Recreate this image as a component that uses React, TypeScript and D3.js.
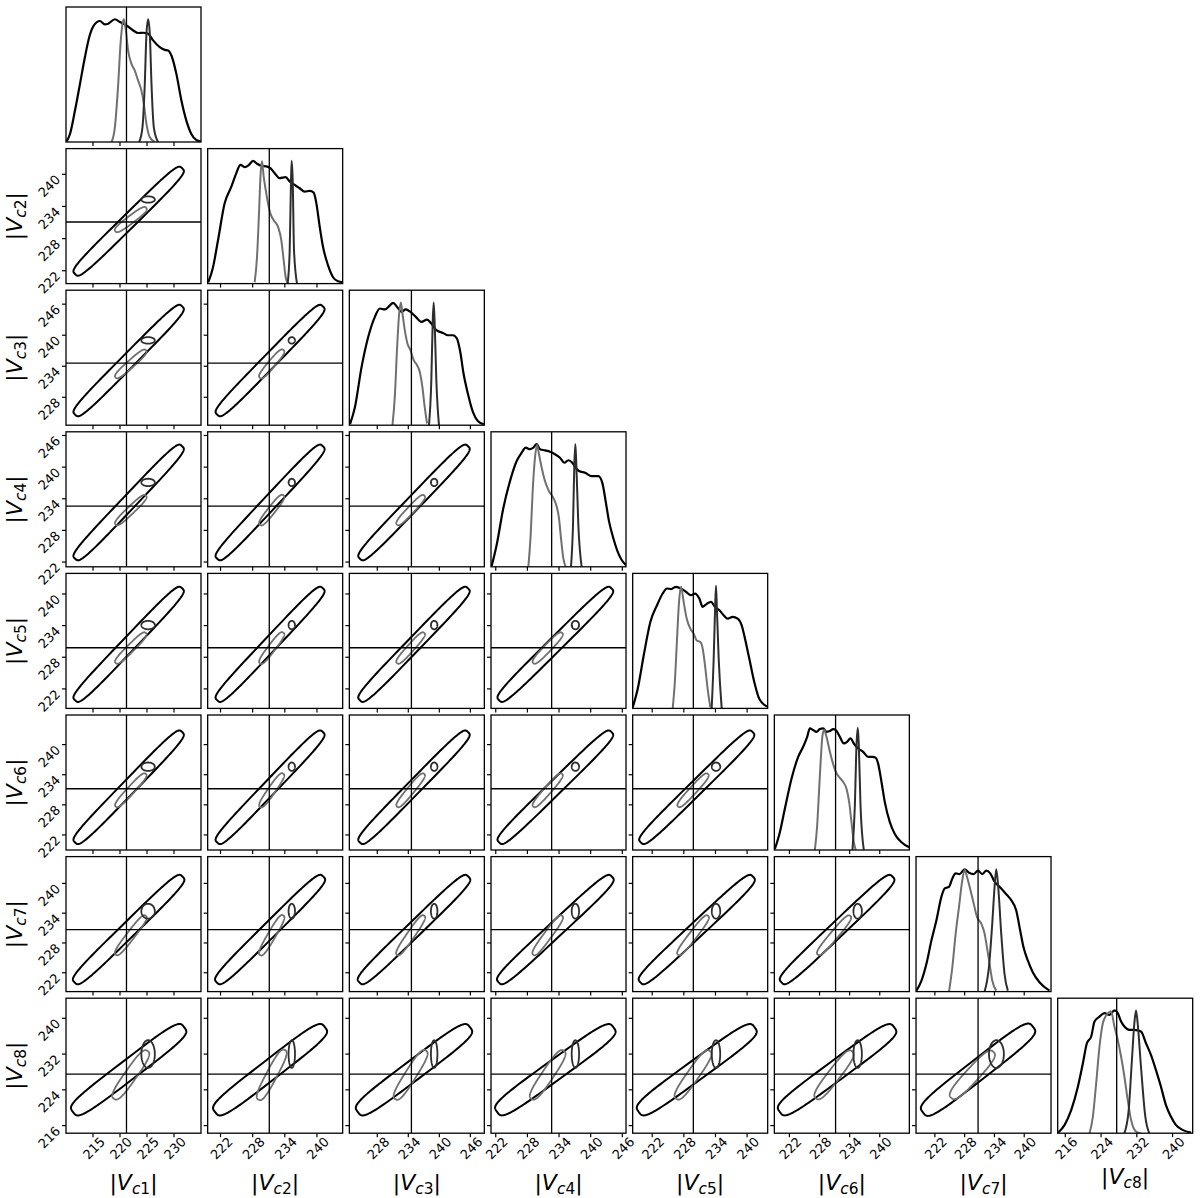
import React from 'react';
import * as d3 from 'd3';

// variable names, injected "true" values, axis ranges and ticks
const names = ['c1', 'c2', 'c3', 'c4', 'c5', 'c6', 'c7', 'c8'];
const truth = [221.2, 231.1, 234.6, 232.6, 229.8, 231.2, 230.7, 227.5];
const domains = [
  [210, 235], [219.6, 244.8], [222.6, 248.7], [221.1, 246.7],
  [218.3, 243.9], [219.0, 245.9], [218.2, 245.4], [214.3, 244.5],
];
const tickVals = [
  [215, 220, 225, 230], [222, 228, 234, 240], [228, 234, 240, 246], [222, 228, 234, 240, 246],
  [222, 228, 234, 240], [222, 228, 234, 240], [222, 228, 234, 240], [216, 224, 232, 240],
];

// 1D marginals [value, relative density]
const broad1D = [
  [[210.12, 0.005], [210.74, 0.065], [211.66, 0.256], [212.59, 0.474], [213.51, 0.692], [214.31, 0.855], [215.05, 0.942], [216.28, 0.986], [217.2, 0.958], [217.82, 0.964], [219.05, 1.0], [219.98, 0.977], [221.21, 0.95], [222.44, 0.909], [223.37, 0.888], [224.29, 0.89], [225.21, 0.882], [226.13, 0.828], [227.36, 0.773], [228.29, 0.751], [228.9, 0.746], [229.52, 0.705], [230.44, 0.555], [231.37, 0.338], [232.29, 0.174], [233.21, 0.065], [234.14, 0.016], [235, 0.005]],
  [[219.72, 0.011], [220.6, 0.134], [221.53, 0.353], [222.77, 0.654], [224.02, 0.79], [224.95, 0.9], [225.7, 0.968], [226.51, 0.949], [227.32, 0.968], [228.06, 1.0], [228.81, 0.977], [229.62, 0.96], [230.55, 0.955], [231.3, 0.941], [232.11, 0.9], [233.04, 0.859], [234.16, 0.867], [234.91, 0.832], [235.84, 0.804], [236.77, 0.777], [237.71, 0.75], [238.64, 0.755], [239.39, 0.741], [239.89, 0.654], [240.51, 0.465], [241.13, 0.3], [242.06, 0.15], [243.0, 0.052], [243.93, 0.019], [244.8, 0.011]],
  [[222.73, 0.008], [223.69, 0.149], [224.97, 0.475], [226.26, 0.72], [227.54, 0.883], [228.5, 0.951], [229.47, 0.943], [230.3, 0.97], [231.07, 0.997], [231.84, 0.964], [232.68, 0.923], [233.51, 0.943], [234.41, 0.923], [235.44, 0.883], [236.53, 0.842], [237.62, 0.861], [238.45, 0.828], [239.42, 0.774], [240.7, 0.752], [241.66, 0.733], [242.63, 0.733], [243.4, 0.706], [244.04, 0.598], [244.68, 0.421], [245.51, 0.258], [246.48, 0.109], [247.44, 0.035], [248.6, 0.008]],
  [[221.23, 0.008], [222.17, 0.178], [223.44, 0.479], [224.7, 0.698], [225.97, 0.862], [226.92, 0.93], [227.67, 0.971], [228.5, 0.958], [229.13, 0.971], [229.76, 1.0], [230.39, 0.958], [231.34, 0.949], [232.29, 0.938], [233.24, 0.917], [234.18, 0.889], [235.0, 0.848], [235.77, 0.868], [236.52, 0.848], [237.16, 0.807], [237.79, 0.78], [238.93, 0.766], [240.19, 0.739], [241.45, 0.739], [242.21, 0.684], [242.84, 0.534], [243.48, 0.37], [244.3, 0.233], [245.25, 0.109], [245.88, 0.055], [246.7, 0.014]],
  [[218.3, 0.008], [219.25, 0.158], [220.39, 0.431], [221.65, 0.704], [222.92, 0.841], [223.99, 0.936], [224.81, 0.977], [225.57, 0.972], [226.52, 0.991], [227.47, 0.977], [228.41, 0.95], [229.36, 0.922], [230.12, 0.936], [230.94, 0.895], [231.57, 0.827], [232.4, 0.854], [233.16, 0.868], [233.91, 0.827], [234.74, 0.8], [235.56, 0.759], [236.32, 0.731], [237.26, 0.745], [238.21, 0.731], [238.97, 0.677], [239.6, 0.568], [240.42, 0.404], [241.37, 0.213], [242.32, 0.076], [243.78, 0.016]],
  [[219.1, 0.008], [220.1, 0.145], [221.09, 0.336], [222.42, 0.581], [223.75, 0.759], [224.74, 0.841], [225.54, 0.922], [226.07, 0.991], [226.74, 0.977], [227.4, 0.963], [228.06, 0.985], [228.73, 0.991], [229.39, 0.963], [230.06, 0.969], [230.72, 0.985], [231.25, 0.977], [232.05, 0.922], [232.84, 0.868], [233.51, 0.882], [234.17, 0.909], [234.84, 0.868], [235.7, 0.827], [236.7, 0.8], [237.69, 0.759], [238.56, 0.759], [239.22, 0.751], [239.68, 0.704], [240.35, 0.554], [241.01, 0.39], [242.01, 0.227], [243.0, 0.131], [244.33, 0.063], [245.86, 0.022]],
  [[218.29, 0.008], [219.3, 0.09], [220.3, 0.227], [221.31, 0.418], [222.31, 0.581], [223.31, 0.772], [223.98, 0.841], [224.85, 0.854], [225.52, 0.922], [226.19, 0.963], [226.99, 0.958], [227.99, 0.996], [228.87, 0.969], [229.81, 0.958], [230.68, 0.985], [231.55, 0.958], [232.35, 0.985], [233.16, 0.963], [234.03, 0.895], [235.03, 0.854], [236.24, 0.8], [237.38, 0.745], [238.38, 0.663], [239.18, 0.499], [239.85, 0.363], [240.72, 0.254], [241.72, 0.158], [243.07, 0.076], [245.08, 0.008]],
  [[214.45, 0.005], [215.86, 0.068], [217.34, 0.19], [218.83, 0.38], [219.94, 0.57], [220.83, 0.733], [221.8, 0.788], [222.54, 0.91], [223.65, 0.95], [224.77, 0.978], [225.88, 0.964], [226.99, 1.0], [227.74, 0.978], [228.48, 0.91], [229.22, 0.869], [230.34, 0.842], [231.45, 0.842], [232.93, 0.828], [234.05, 0.733], [235.16, 0.638], [236.27, 0.516], [237.39, 0.38], [238.5, 0.231], [239.62, 0.136], [240.73, 0.068], [242.22, 0.027], [244.15, 0.005]],
];

const gray1D = [
  [[218.44, 0], [219.05, 0.12], [219.67, 0.474], [220.1, 0.8], [220.47, 0.964], [220.71, 1.0], [221.08, 0.909], [221.51, 0.745], [222.13, 0.637], [222.74, 0.582], [223.36, 0.5], [223.97, 0.419], [224.41, 0.31], [224.9, 0.147], [225.52, 0.038], [226.44, 0]],
  [[228.37, 0.011], [228.81, 0.216], [229.18, 0.572], [229.49, 0.9], [229.74, 0.996], [230.05, 0.873], [230.43, 0.764], [230.86, 0.654], [231.3, 0.572], [231.92, 0.517], [232.73, 0.462], [233.35, 0.353], [233.79, 0.189], [234.16, 0.052], [234.6, 0]],
  [[230.94, 0], [231.39, 0.231], [231.84, 0.638], [232.23, 0.91], [232.55, 1.0], [232.87, 0.91], [233.32, 0.774], [233.83, 0.665], [234.41, 0.611], [235.05, 0.53], [235.69, 0.489], [236.21, 0.435], [236.72, 0.312], [237.17, 0.149], [237.62, 0.014]],
  [[228.18, 0], [228.62, 0.26], [229.0, 0.616], [229.44, 0.889], [229.82, 0.993], [230.2, 0.917], [230.71, 0.807], [231.34, 0.698], [232.1, 0.616], [232.92, 0.561], [233.55, 0.492], [233.99, 0.397], [234.37, 0.233], [234.82, 0.068], [235.26, 0]],
  [[225.89, 0], [226.33, 0.24], [226.71, 0.568], [227.09, 0.868], [227.47, 0.991], [227.97, 0.868], [228.54, 0.732], [229.24, 0.65], [229.87, 0.609], [230.44, 0.554], [231.14, 0.541], [231.58, 0.486], [232.02, 0.349], [232.52, 0.158], [233.03, 0.008]],
  [[227.07, 0], [227.53, 0.199], [227.93, 0.5], [228.26, 0.746], [228.6, 0.936], [228.93, 0.977], [229.39, 0.922], [229.92, 0.827], [230.59, 0.718], [231.25, 0.636], [231.92, 0.595], [232.71, 0.554], [233.38, 0.5], [233.91, 0.39], [234.37, 0.227], [234.84, 0.063], [235.23, 0]],
  [[224.85, 0], [225.52, 0.2], [226.19, 0.472], [226.86, 0.69], [227.53, 0.909], [228.0, 0.991], [228.47, 0.936], [229.0, 0.854], [229.67, 0.745], [230.48, 0.609], [231.35, 0.554], [232.02, 0.472], [232.48, 0.363], [233.02, 0.226], [233.56, 0.09], [234.36, 0.008]],
  [[221.43, 0], [222.17, 0.136], [222.91, 0.407], [223.65, 0.706], [224.4, 0.896], [224.99, 0.95], [226.25, 0.991], [226.99, 0.869], [227.74, 0.76], [228.48, 0.625], [229.22, 0.462], [229.96, 0.272], [230.71, 0.109], [231.82, 0.014], [232.93, 0]],
];

const dark1D = [
  [[223.55, 0], [224.16, 0.12], [224.59, 0.474], [224.9, 0.882], [225.21, 1.0], [225.52, 0.882], [225.83, 0.474], [226.26, 0.12], [227.06, 0]],
  [[234.53, 0], [234.91, 0.27], [235.16, 0.845], [235.28, 1.0], [235.47, 0.845], [235.72, 0.27], [236.28, 0]],
  [[238.0, 0], [238.45, 0.367], [238.71, 0.828], [238.9, 1.0], [239.1, 0.828], [239.42, 0.367], [239.93, 0]],
  [[236.27, 0], [236.65, 0.342], [236.9, 0.834], [237.09, 1.0], [237.28, 0.834], [237.66, 0.342], [238.29, 0]],
  [[233.28, 0], [233.66, 0.404], [233.91, 0.786], [234.1, 1.0], [234.29, 0.786], [234.61, 0.404], [235.18, 0]],
  [[234.57, 0], [235.04, 0.363], [235.37, 0.854], [235.63, 0.996], [235.83, 0.854], [236.17, 0.363], [236.83, 0]],
  [[232.02, 0], [232.89, 0.2], [233.56, 0.554], [234.03, 0.854], [234.36, 0.996], [234.76, 0.854], [235.37, 0.472], [236.03, 0.145], [236.7, 0.008]],
  [[229.22, 0], [230.19, 0.19], [230.86, 0.57], [231.45, 0.896], [231.82, 1.0], [232.19, 0.896], [232.93, 0.543], [233.9, 0.136], [234.79, 0]],
];

// 2D credible regions: [low end, high end, spread] along the common direction
const broadBand = [
  [212.6, 230.6, 1.3], [222.3, 240.2, 1.3], [225.6, 244.6, 1.35], [223.6, 243.0, 1.35],
  [220.8, 240.1, 1.35], [221.5, 241.5, 1.4], [221.1, 240.3, 1.6], [220.2, 236.8, 2.5],
];
const grayBand = [
  [219.7, 224.3, 0.7], [229.8, 233.3, 0.7], [232.3, 236.6, 0.7], [229.6, 234.1, 0.7],
  [227.4, 232.1, 0.7], [228.2, 233.6, 0.75], [226.3, 232.8, 0.9], [223.4, 231.3, 2.0],
];
// [centre, spread]
const darkSpot = [
  [225.2, 1.25], [235.3, 0.6], [239.0, 0.63], [237.1, 0.7],
  [234.1, 0.8], [235.6, 0.84], [234.4, 1.5], [232.0, 3.1],
];

const N = 8;
const LEFT = 66;
const TOP = 7;
const PX = 141.67;
const PY = 141.6;
const SIZE = 135;

const BROAD = '#000000';
const GRAY = '#707070';
const DARK = '#2e2e2e';
const FONT = 'DejaVu Sans, sans-serif';

// rounded, slightly tapered outline around the segment A-B (pixel space)
function region(ax, ay, bx, by, rx, ry, n = 3) {
  const dx = bx - ax, dy = by - ay;
  const len = Math.hypot(dx, dy);
  const cx = (ax + bx) / 2, cy = (ay + by) / 2;
  let ux = 1, uy = 0;
  if (len > 1e-6) { ux = dx / len; uy = dy / len; }
  const vx = -uy, vy = ux;
  const su = Math.hypot(rx * ux, ry * uy);
  const sv = Math.hypot(rx * vx, ry * vy);
  const L = len / 2 + su;
  const W = sv;
  const pts = [];
  const steps = 160;
  for (let k = 0; k < steps; k++) {
    const t = (k / steps) * 2 * Math.PI;
    const c = Math.cos(t), s = Math.sin(t);
    const cu = Math.sign(c) * Math.pow(Math.abs(c), 2 / n);
    const cv = Math.sign(s) * Math.pow(Math.abs(s), 2 / n);
    pts.push([cx + ux * L * cu + vx * W * cv, cy + uy * L * cu + vy * W * cv]);
  }
  return d3.line().curve(d3.curveLinearClosed)(pts);
}

function ellipse(cx, cy, rx, ry) {
  const pts = d3.range(0, 2 * Math.PI, Math.PI / 40).map(t => [cx + rx * Math.cos(t), cy + ry * Math.sin(t)]);
  return d3.line().curve(d3.curveLinearClosed)(pts);
}

function AxisLabel({ k, size }) {
  return (
    <>
      <tspan>|</tspan>
      <tspan fontStyle="italic">V</tspan>
      <tspan fontStyle="italic" fontSize={size * 0.7} dy={size * 0.17}>c</tspan>
      <tspan fontSize={size * 0.7}>{names[k].slice(1)}</tspan>
      <tspan dy={-size * 0.17}>|</tspan>
    </>
  );
}

export default function App() {
  const scaleX = domains.map((d, j) =>
    d3.scaleLinear().domain(d).range([LEFT + j * PX, LEFT + j * PX + SIZE])
  );
  const scaleY = domains.map((d, i) =>
    d3.scaleLinear().domain(d).range([TOP + i * PY + SIZE, TOP + i * PY])
  );

  const cells = [];
  for (let i = 0; i < N; i++) {
    for (let j = 0; j <= i; j++) {
      const x0 = LEFT + j * PX;
      const y0 = TOP + i * PY;
      const x = scaleX[j];
      const clipId = `clip-${i}-${j}`;
      const content = [];

      if (i === j) {
        const h = d3.scaleLinear().domain([0, 1.1]).range([y0 + SIZE, y0]);
        const line = d3.line().x(d => x(d[0])).y(d => h(d[1])).curve(d3.curveMonotoneX);
        content.push(<path key="b" d={line(broad1D[i])} fill="none" stroke={BROAD} strokeWidth={2.2} />);
        content.push(<path key="g" d={line(gray1D[i])} fill="none" stroke={GRAY} strokeWidth={2} />);
        content.push(<path key="d" d={line(dark1D[i])} fill="none" stroke={DARK} strokeWidth={2} />);
        content.push(<line key="t" x1={x(truth[i])} x2={x(truth[i])} y1={y0} y2={y0 + SIZE} stroke="#000" strokeWidth={1.3} />);
      } else {
        const y = scaleY[i];
        const kx = Math.abs(x(1) - x(0));
        const ky = Math.abs(y(1) - y(0));
        const bj = broadBand[j], bi = broadBand[i];
        const gj = grayBand[j], gi = grayBand[i];
        const dj = darkSpot[j], di = darkSpot[i];
        content.push(<path key="b" d={region(x(bj[0]), y(bi[0]), x(bj[1]), y(bi[1]), bj[2] * kx, bi[2] * ky, 4)} fill="none" stroke={BROAD} strokeWidth={2} strokeLinejoin="round" />);
        content.push(<path key="g" d={region(x(gj[0]), y(gi[0]), x(gj[1]), y(gi[1]), gj[2] * kx, gi[2] * ky, 3)} fill="none" stroke={GRAY} strokeWidth={1.8} strokeLinejoin="round" />);
        content.push(<path key="d" d={ellipse(x(dj[0]), y(di[0]), dj[1] * kx, di[1] * ky)} fill="none" stroke={DARK} strokeWidth={1.8} />);
        content.push(<line key="tx" x1={x(truth[j])} x2={x(truth[j])} y1={y0} y2={y0 + SIZE} stroke="#000" strokeWidth={1.3} />);
        content.push(<line key="ty" x1={x0} x2={x0 + SIZE} y1={y(truth[i])} y2={y(truth[i])} stroke="#000" strokeWidth={1.3} />);
      }

      const ticks = [];
      tickVals[j].forEach(v => {
        ticks.push(<line key={`xt${v}`} x1={x(v)} x2={x(v)} y1={y0 + SIZE} y2={y0 + SIZE + 4} stroke="#000" strokeWidth={1.2} />);
        if (i === N - 1) {
          ticks.push(
            <text key={`xl${v}`} transform={`translate(${x(v) + 1},${y0 + SIZE + 15}) rotate(-45)`}
              textAnchor="middle" dominantBaseline="central" fontSize={13} fontFamily={FONT}>{v}</text>
          );
        }
      });
      if (j < i) {
        const y = scaleY[i];
        tickVals[i].forEach(v => {
          ticks.push(<line key={`yt${v}`} x1={x0 - 4} x2={x0} y1={y(v)} y2={y(v)} stroke="#000" strokeWidth={1.2} />);
          if (j === 0) {
            ticks.push(
              <text key={`yl${v}`} transform={`translate(${x0 - 8},${y(v) + 3}) rotate(-45)`}
                textAnchor="end" dominantBaseline="central" fontSize={13} fontFamily={FONT}>{v}</text>
            );
          }
        });
      }

      cells.push(
        <g key={clipId}>
          <defs>
            <clipPath id={clipId}><rect x={x0} y={y0} width={SIZE} height={SIZE} /></clipPath>
          </defs>
          <g clipPath={`url(#${clipId})`}>{content}</g>
          {ticks}
          <rect x={x0} y={y0} width={SIZE} height={SIZE} fill="none" stroke="#000" strokeWidth={1.3} />
        </g>
      );
    }
  }

  const labels = [];
  for (let k = 0; k < N; k++) {
    const cx = LEFT + k * PX + SIZE / 2;
    labels.push(
      <text key={`xlab${k}`} x={cx} y={k === N - 1 ? 1184 : 1190} textAnchor="middle" fontSize={22} fontFamily={FONT}>
        <AxisLabel k={k} size={22} />
      </text>
    );
    if (k > 0) {
      const cy = TOP + k * PY + SIZE / 2;
      labels.push(
        <text key={`ylab${k}`} transform={`translate(22,${cy}) rotate(-90)`} textAnchor="middle" fontSize={22} fontFamily={FONT}>
          <AxisLabel k={k} size={22} />
        </text>
      );
    }
  }

  return (
    <svg width={1200} height={1198} style={{ position: 'absolute', left: 0, top: 0, background: '#fff' }}>
      <rect width={1200} height={1198} fill="#fff" />
      {cells}
      {labels}
    </svg>
  );
}
